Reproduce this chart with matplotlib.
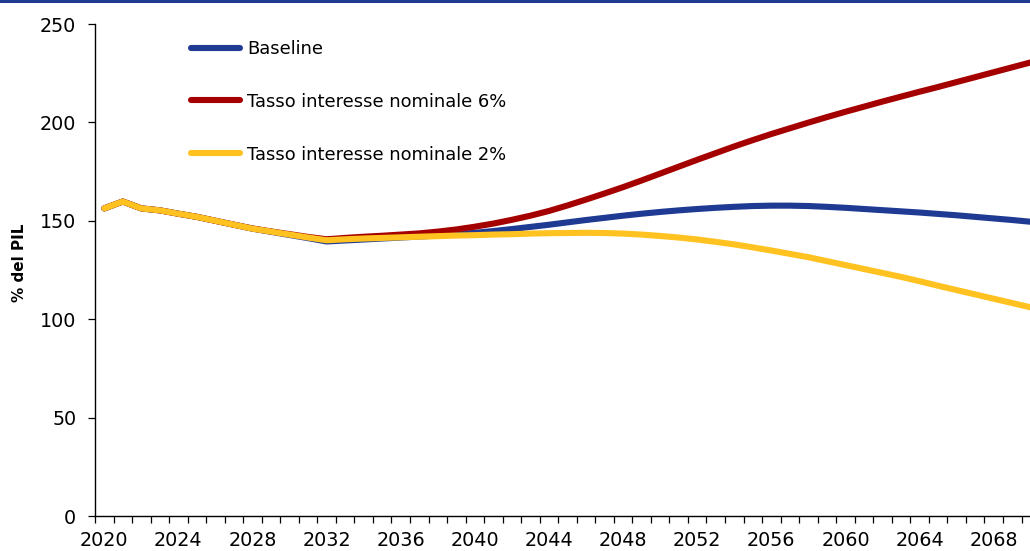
import matplotlib
matplotlib.use("Agg")
import matplotlib.pyplot as plt
from matplotlib.patches import Rectangle
from matplotlib.ticker import FixedLocator

plt.rcParams['font.family'] = ['DejaVu Sans']

years = list(range(2020, 2071))

baseline = [156.3, 159.8, 156.3, 155.3, 153.6, 152.0, 150.0, 148.0, 146.0, 144.4, 142.8, 141.2, 139.5,
            140.0, 140.5, 141.0, 141.5, 142.0, 142.5, 143.1, 143.9, 144.8, 145.8, 146.9, 148.0,
            149.2, 150.4, 151.5, 152.6, 153.6, 154.5, 155.3, 156.0, 156.6, 157.1, 157.5, 157.7,
            157.7, 157.5, 157.1, 156.6, 156.0, 155.4, 154.8, 154.2, 153.5, 152.8, 152.0, 151.2,
            150.4, 149.5]

rate6 = [156.3, 159.8, 156.3, 155.3, 153.6, 152.0, 150.0, 148.0, 146.1, 144.6, 143.2, 141.8, 140.6,
         141.3, 141.9, 142.4, 143.0, 143.6, 144.5, 145.6, 147.0, 148.6, 150.5, 152.6, 155.0,
         157.8, 160.8, 163.9, 167.1, 170.5, 174.0, 177.5, 181.0, 184.4, 187.8, 191.0, 194.1,
         197.0, 199.9, 202.7, 205.4, 208.0, 210.6, 213.1, 215.6, 218.0, 220.5, 223.0, 225.5,
         228.0, 230.5]

rate2 = [156.3, 159.8, 156.3, 155.3, 153.6, 152.0, 150.0, 148.0, 146.0, 144.5, 143.0, 141.5, 140.1,
         140.6, 141.0, 141.3, 141.6, 141.9, 142.2, 142.5, 142.7, 143.0, 143.2, 143.5, 143.7,
         143.8, 143.9, 143.8, 143.5, 143.0, 142.3, 141.5, 140.5, 139.3, 138.0, 136.5, 134.9,
         133.2, 131.5, 129.5, 127.5, 125.5, 123.5, 121.5, 119.3, 117.0, 114.8, 112.6, 110.4,
         108.2, 106.0]

labels = ["Baseline", "Tasso interesse nominale 6%", "Tasso interesse nominale 2%"]
colors = ["#1F3A93", "#A50000", "#FFC220"]
xtick_years = list(range(2020, 2069, 4))
yticks = [0, 50, 100, 150, 200, 250]

W, H = 1030, 551
fig = plt.figure(figsize=(W / 100, H / 100), dpi=100)
# axes: left 95px, bottom 516px, top 24px, category width 18.53px (51 categories)
ax = fig.add_axes([95 / W, 1 - 516 / H, 51 * 18.53 / W, (516 - 24) / H])

for series, lab, col in zip([baseline, rate6, rate2], labels, colors):
    ax.plot(years, series, color=col, lw=4.4, label=lab, solid_capstyle='round',
            solid_joinstyle='round')

ax.set_xlim(2019.5, 2070.5)
ax.set_ylim(0, 250)
ax.set_yticks(yticks)
ax.set_xticks(xtick_years)
ax.xaxis.set_minor_locator(FixedLocator([y - 0.5 for y in years] + [2070.5]))

for side in ["top", "right"]:
    ax.spines[side].set_visible(False)
for side in ["left", "bottom"]:
    ax.spines[side].set_linewidth(1.0)
    ax.spines[side].set_color("#000000")

ax.tick_params(axis='x', which='major', length=0, pad=11, labelsize=13.8, colors='#000000')
ax.tick_params(axis='x', which='minor', length=5, width=0.9, direction='out', color='#000000')
ax.tick_params(axis='y', which='major', length=5, width=0.9, direction='out', pad=8.5,
               labelsize=13.8, colors='#000000')

ax.set_ylabel("% del PIL", fontsize=11, fontweight='bold')
ax.yaxis.set_label_coords((27 - 95) / 945, (516 - 263) / 492)

leg = ax.legend(loc='upper left', bbox_to_anchor=(191 / W, 1 - 40 / H),
                bbox_transform=fig.transFigure, frameon=False, fontsize=12.9,
                handlelength=2.75, handletextpad=0.38, labelspacing=1.94, borderpad=0,
                borderaxespad=0)
for line in leg.get_lines():
    line.set_linewidth(4.4)
    line.set_solid_capstyle('round')

fig.patches.append(Rectangle((0, 1 - 3 / H), 1, 3 / H, transform=fig.transFigure,
                             facecolor="#1F3A93", edgecolor='none'))

fig.savefig("out.png", dpi=100)
